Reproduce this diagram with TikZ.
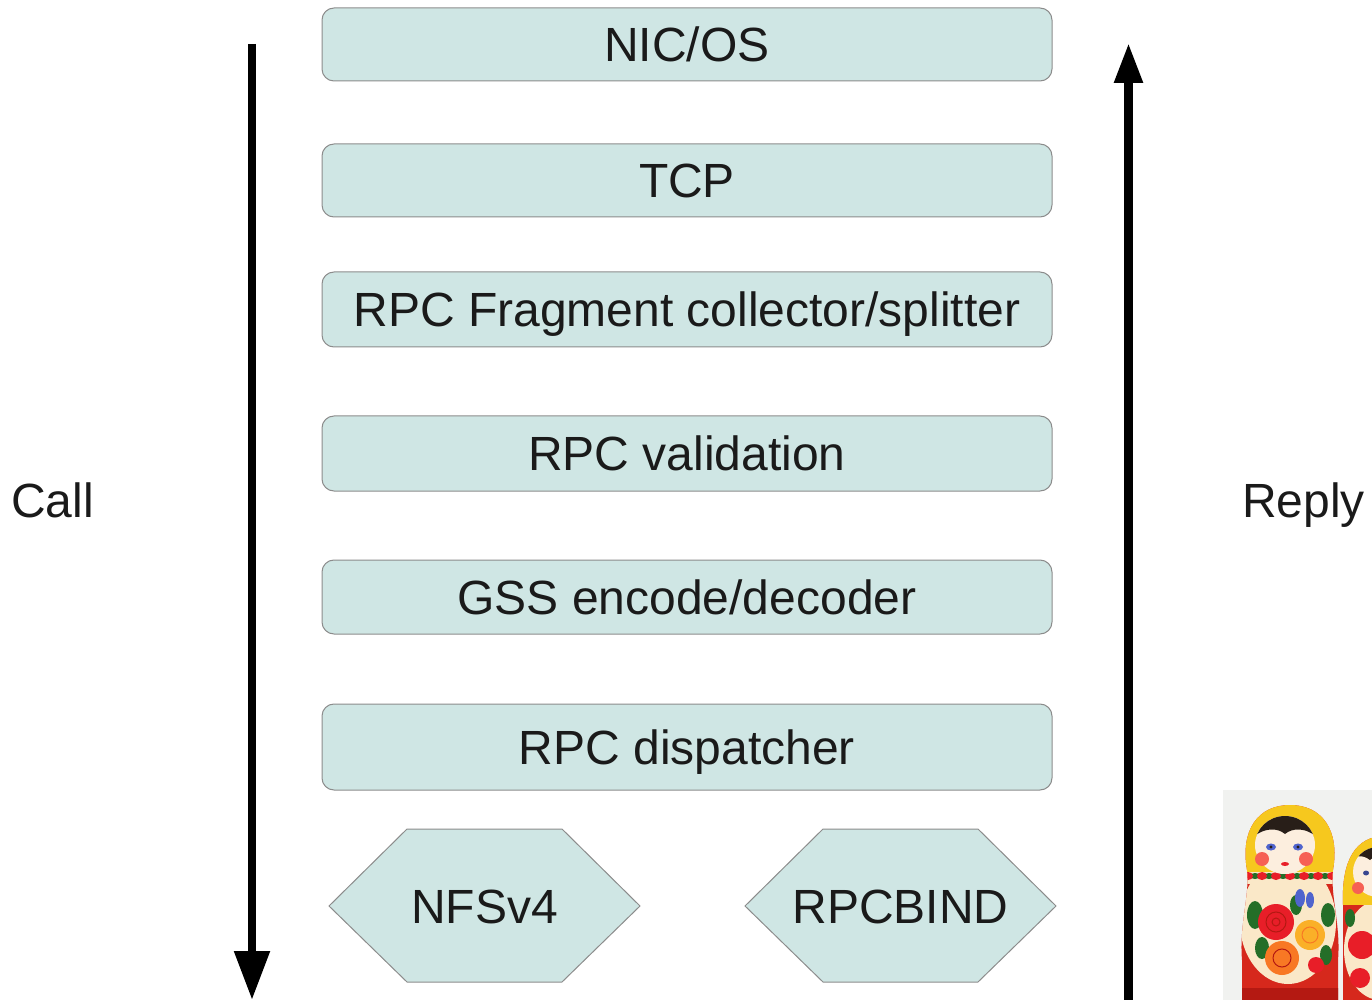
\documentclass[tikz,border=0pt]{standalone}
\usepackage{fontspec}
\setmainfont{Liberation Sans}
\usetikzlibrary{arrows.meta}
\definecolor{boxfill}{RGB}{207,230,228}
\definecolor{boxline}{RGB}{140,140,140}
\definecolor{txt}{RGB}{26,26,26}
\definecolor{photobg}{RGB}{241,242,240}
\definecolor{dollred}{RGB}{214,40,28}
\definecolor{dolldark}{RGB}{180,25,18}
\definecolor{dollyellow}{RGB}{246,200,30}
\definecolor{dollcream}{RGB}{250,232,200}
\definecolor{dollface}{RGB}{252,238,222}
\definecolor{dollhair}{RGB}{40,30,24}
\definecolor{cheek}{RGB}{246,96,84}
\definecolor{rose}{RGB}{232,30,40}
\definecolor{orangerose}{RGB}{248,120,36}
\definecolor{yellowrose}{RGB}{250,176,40}
\definecolor{leaf}{RGB}{36,110,40}
\definecolor{blueflower}{RGB}{80,100,205}
\begin{document}
\begin{tikzpicture}[x=0.5pt,y=-0.5pt,
  lbl/.style={font=\fontsize{24}{28}\selectfont, text=txt},
  layer/.style={lbl, draw=boxline, fill=boxfill, rounded corners=6pt, line width=0.5pt,
    minimum width=365pt, inner sep=0pt, text height=17pt, text depth=0pt},
  hexshape/.style={draw=boxline, fill=boxfill, line width=0.5pt, line join=miter},
  hexlabel/.style={lbl, inner sep=0pt, text height=17pt, text depth=0pt},
  side/.style={lbl, anchor=base, inner sep=0pt},
  flow/.style={line width=4.2pt, draw=black}
]
\useasboundingbox (0,0) rectangle (1372,1000);

% layers
\node[layer, minimum height=36.5pt] (nic)   at (687,44.5)  {NIC/OS};
\node[layer, minimum height=36.5pt] (tcp)   at (687,180.5) {TCP};
\node[layer, minimum height=37.5pt] (frag)  at (687,309.5) {RPC Fragment collector/splitter};
\node[layer, minimum height=37.5pt] (valid) at (687,453.5) {RPC validation};
\node[layer, minimum height=37pt]   (gss)   at (687,597)   {GSS encode/decoder};
\node[layer, minimum height=43pt]   (disp)  at (687,747)   {RPC dispatcher};

% hexagons
\draw[hexshape] (329,906) -- (407,829) -- (562,829) -- (640,906) -- (562,982) -- (407,982) -- cycle;
\node[hexlabel] (nfs) at (484.5,906) {NFSv4};
\draw[hexshape] (745,906) -- (823,829) -- (978,829) -- (1056,906) -- (978,982) -- (823,982) -- cycle;
\node[hexlabel] (rpcbind) at (900.5,906) {RPCBIND};

% side labels
\node[side] (call) at (52.5,517) {Call};
\node[side] (reply) at (1303.5,517) {Reply};

% arrows
\coordinate (callTop) at (252,44);
\coordinate (callBot) at (252,1000);
\coordinate (replyBot) at (1128.5,1000);
\coordinate (replyTop) at (1128.5,43);
\draw[flow, -{Triangle[width=17pt,length=24.5pt]}] (callTop) -- (callBot);
\draw[flow, -{Triangle[width=13.5pt,length=20pt]}] (replyBot) -- (replyTop);

% nesting dolls picture
\begin{scope}
\clip (1223,790) rectangle (1372,1000);
\fill[photobg] (1223,790) rectangle (1372,1000);
% second doll (partly hidden)
\begin{scope}
\clip (1343,1000) -- (1343,905) .. controls (1341,860) and (1356,836) .. (1385,836) -- (1385,1000) -- cycle;
\fill[dollred] (1330,830) rectangle (1390,1000);
\fill[dollcream] (1380,950) ellipse [x radius=36, y radius=50];
\fill[dollyellow] (1330,830) rectangle (1390,905);
\fill[rose] (1362,945) circle [radius=14];
\fill[leaf] (1350,918) ellipse [x radius=5, y radius=9];
\fill[rose] (1360,978) circle [radius=10];
\end{scope}
\fill[dollface] (1378,872) ellipse [x radius=25, y radius=25];
\begin{scope}
\clip (1378,872) ellipse [x radius=25, y radius=25];
\fill[dollhair] (1345,840) -- (1400,840) -- (1400,862) .. controls (1385,852) and (1375,855) .. (1370,860) .. controls (1362,854) and (1355,855) .. (1345,864) -- cycle;
\end{scope}
\fill[cheek] (1358,888) circle [radius=6];
\fill[blueflower!70!black] (1366,873) ellipse [x radius=3, y radius=2.5];

% first doll
\begin{scope}
\clip (1242,1000) -- (1242,960) .. controls (1239,925) and (1250,895) .. (1247,870)
  .. controls (1240,830) and (1258,805) .. (1290,805)
  .. controls (1322,805) and (1340,830) .. (1333,870)
  .. controls (1330,895) and (1341,925) .. (1338,960) -- (1338,1000) -- cycle;
\fill[dollred] (1230,800) rectangle (1345,1000);
\fill[dollcream] (1288,922) ellipse [x radius=48, y radius=62];
\fill[dollyellow] (1230,800) rectangle (1345,877);
% collar band
\fill[dollcream] (1230,872) rectangle (1345,884);
\foreach \cx in {1248,1262,1276,1290,1304,1318,1332} {
  \fill[leaf] (\cx+7,876) ellipse [x radius=5, y radius=3];
  \fill[rose] (\cx,876) ellipse [x radius=5, y radius=4];
}
% flowers
\fill[leaf] (1255,915) ellipse [x radius=8, y radius=14];
\fill[leaf] (1262,948) ellipse [x radius=7, y radius=11];
\fill[leaf] (1328,915) ellipse [x radius=7, y radius=12];
\fill[leaf] (1326,955) ellipse [x radius=6, y radius=10];
\fill[leaf] (1296,905) ellipse [x radius=6, y radius=10];
\fill[blueflower] (1300,898) ellipse [x radius=5, y radius=9];
\fill[blueflower] (1310,900) ellipse [x radius=4, y radius=8];
\fill[rose] (1276,922) circle [radius=18];
\draw[dolldark, line width=0.5pt] (1276,922) circle [radius=10] (1276,922) circle [radius=4];
\fill[yellowrose] (1310,935) circle [radius=15];
\draw[orangerose, line width=0.5pt] (1310,935) circle [radius=8];
\fill[orangerose] (1282,958) circle [radius=17];
\draw[dolldark, line width=0.5pt] (1282,958) circle [radius=9];
\fill[rose] (1316,965) circle [radius=8];
\fill[dolldark] (1230,988) rectangle (1345,1000);
\end{scope}
% face
\fill[dollface] (1285,845) ellipse [x radius=30, y radius=29];
\begin{scope}
\clip (1285,845) ellipse [x radius=30, y radius=29];
\fill[dollhair] (1250,810) -- (1320,810) -- (1320,840)
  .. controls (1306,826) and (1292,828) .. (1285,834)
  .. controls (1278,828) and (1264,826) .. (1250,840) -- cycle;
\end{scope}
\fill[blueflower] (1271,847) ellipse [x radius=5, y radius=3.5];
\fill[blueflower] (1298,847) ellipse [x radius=5, y radius=3.5];
\fill[dollhair] (1271,847) circle [radius=1.6];
\fill[dollhair] (1298,847) circle [radius=1.6];
\fill[cheek] (1262,859) circle [radius=7];
\fill[cheek] (1306,859) circle [radius=7];
\fill[rose] (1285,864) ellipse [x radius=4, y radius=2];
\end{scope}
\end{tikzpicture}
\end{document}
